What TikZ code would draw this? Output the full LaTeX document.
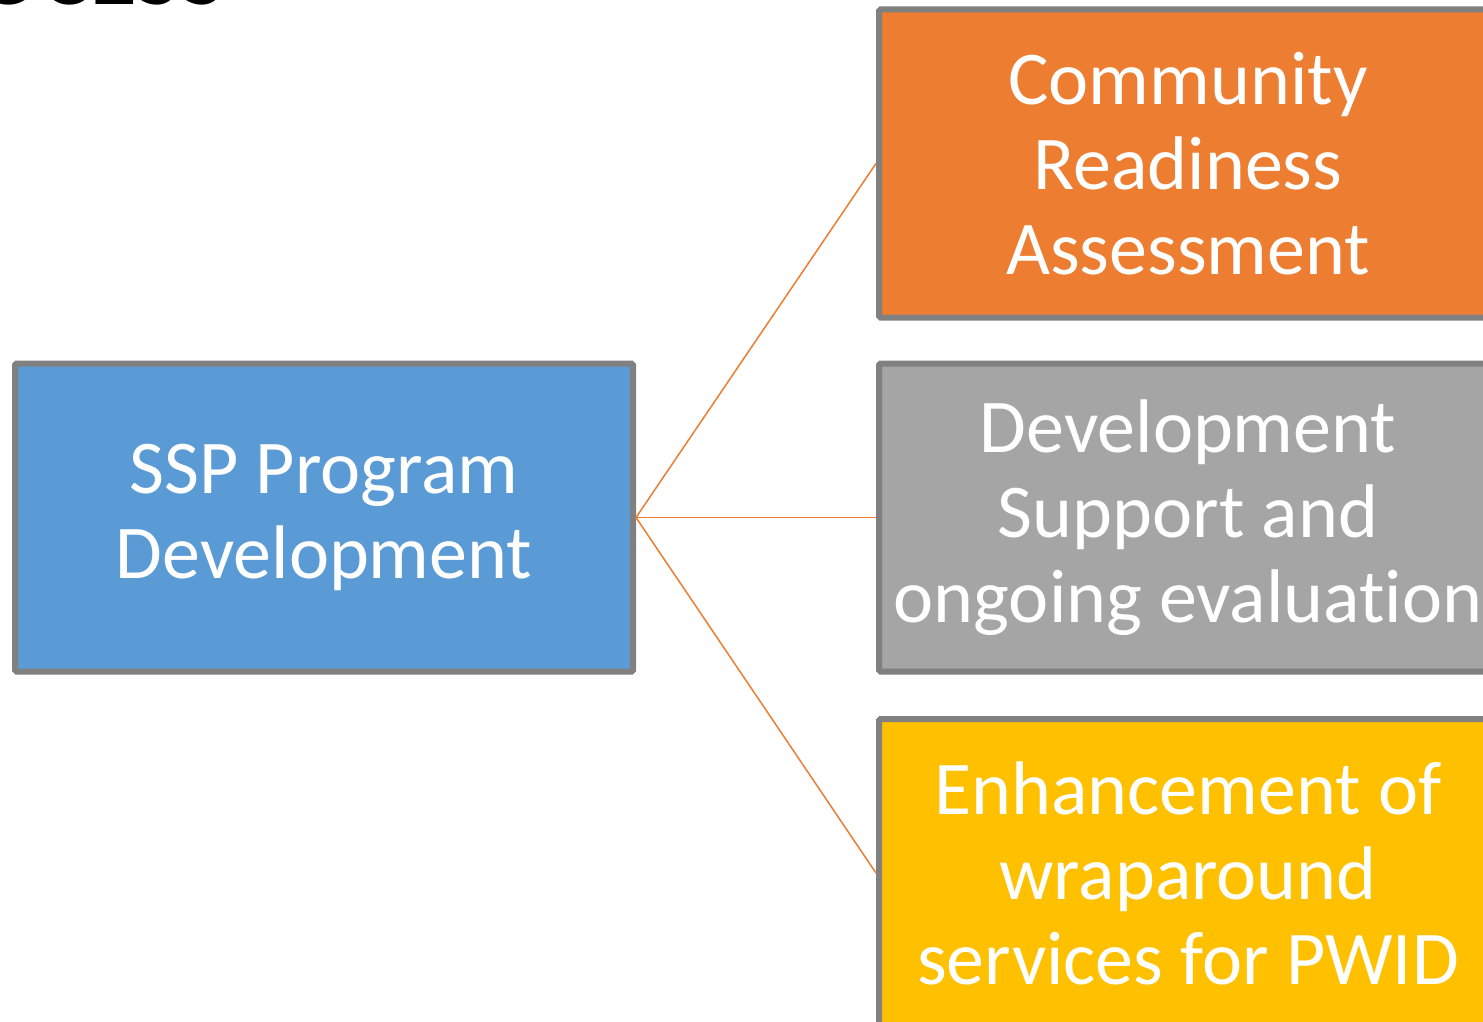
\documentclass[tikz,border=0pt]{standalone}
\usepackage{fontspec}
\setmainfont{Carlito}[Ligatures=NoCommon]
\definecolor{bluefill}{HTML}{5B9BD5}
\definecolor{orangefill}{HTML}{ED7D31}
\definecolor{grayfill}{HTML}{A5A5A5}
\definecolor{goldfill}{HTML}{FFC000}
\definecolor{edgegray}{HTML}{808080}
\definecolor{linkorange}{HTML}{ED7D31}
\begin{document}
\begin{tikzpicture}[x=1pt,y=-1pt,
  box/.style={draw=edgegray, line width=6pt, rounded corners=1.5pt, minimum width=618pt, minimum height=308pt,
    inner sep=0pt, text=white, align=center, font=\fontsize{76}{85}\selectfont},
  link/.style={draw=linkorange, line width=1.5pt}]
\useasboundingbox (0,0) rectangle (1483,1022);
\clip (0,0) rectangle (1483,1022);
\node[anchor=base east, font=\fontsize{95}{100}\selectfont\bfseries, text=black, inner sep=0pt] (title) at (226,5) {PROCESS};
\node[box, fill=bluefill] (ssp) at (324,517.5) {SSP Program\\Development};
\node[box, fill=orangefill] (cra) at (1188,163.5) {Community\\Readiness\\Assessment};
\node[box, fill=grayfill] (dev) at (1188,517.5) {Development\\Support and\\ongoing evaluat\kern0pt ion};
\node[box, fill=goldfill] (enh) at (1188,873) {Enhancement of\\wraparound\\services for PWID};
\draw[link] (ssp.east) -- (cra.west);
\draw[link] (ssp.east) -- (dev.west);
\draw[link] (ssp.east) -- (enh.west);
\end{tikzpicture}
\end{document}
